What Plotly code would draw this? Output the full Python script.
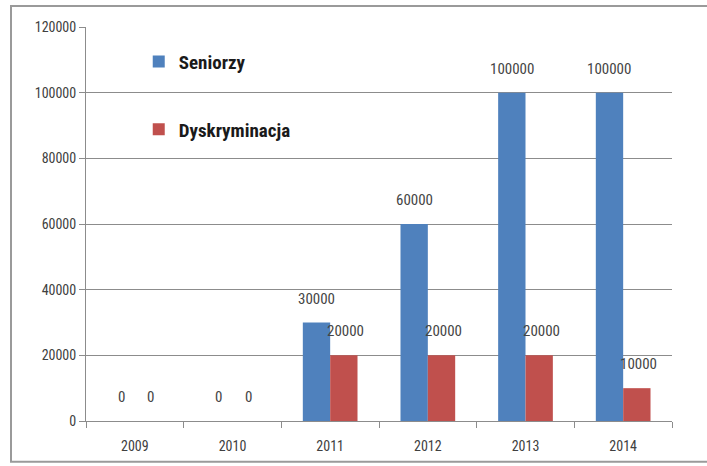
import plotly.graph_objects as go

years = ["2009", "2010", "2011", "2012", "2013", "2014"]
seniorzy = [0, 0, 30000, 60000, 100000, 100000]
dyskryminacja = [0, 0, 20000, 20000, 20000, 10000]
y_ticks = [0, 20000, 40000, 60000, 80000, 100000, 120000]

BLUE = "#4F81BD"
RED = "#C0504D"
FONT = "Liberation Sans Narrow, Arial Narrow, Roboto Condensed, Liberation Sans, sans-serif"
bargap = 0.44

fig = go.Figure()
fig.add_trace(go.Bar(x=years, y=seniorzy, name="Seniorzy",
                     marker=dict(color=BLUE, line=dict(width=0)), legendgroup="a"))
fig.add_trace(go.Bar(x=years, y=dyskryminacja, name="Dyskryminacja",
                     marker=dict(color=RED, line=dict(width=0)), legendgroup="b"))

off = (1 - bargap) / 4
for i, (s, d) in enumerate(zip(seniorzy, dyskryminacja)):
    for val, dx in ((s, -off), (d, off)):
        fig.add_annotation(x=i + dx, y=val, text=str(val), showarrow=False,
                           yanchor="middle", yshift=24, xshift=2 if dx > 0 else 0,
                           font=dict(family=FONT, size=15, color="#454545"))

fig.update_layout(
    width=707, height=466,
    margin=dict(l=86, r=35, t=27, b=43),
    paper_bgcolor="white", plot_bgcolor="white",
    barmode="group", bargap=bargap, bargroupgap=0,
    font=dict(family=FONT, size=14, color="#404040"),
    showlegend=True,
    legend=dict(x=0.09, y=0.96, xanchor="left", yanchor="top",
                bgcolor="rgba(0,0,0,0)", tracegroupgap=40,
                font=dict(family=FONT, size=19, color="#1a1a1a", weight="bold"),
                itemwidth=30),
    xaxis=dict(type="category", showgrid=False, showline=True, linecolor="#8c8c8c", linewidth=1,
               ticks="outside", ticklen=6, tickcolor="#8c8c8c", tickson="boundaries",
               ticklabelstandoff=12,
               tickfont=dict(family=FONT, size=14, color="#404040"), zeroline=False),
    yaxis=dict(range=[0, 120000], tickmode="array", tickvals=y_ticks,
               ticktext=[str(v) for v in y_ticks], showgrid=True, gridcolor="#8c8c8c",
               gridwidth=1, showline=True, linecolor="#8c8c8c", linewidth=1,
               ticks="outside", ticklen=6, tickcolor="#8c8c8c", zeroline=False,
               tickfont=dict(family=FONT, size=14, color="#404040")),
)

# outer chart border
fig.add_shape(type="rect", xref="paper", yref="paper",
              x0=-75 / 586, x1=1.1, y0=-41 / 396, y1=1 + 21 / 396,
              line=dict(color="#9a9a9a", width=2), fillcolor="rgba(0,0,0,0)", layer="below")

fig.write_html("out.html", config={"displayModeBar": False},
               post_script="document.body.style.margin='0';")
